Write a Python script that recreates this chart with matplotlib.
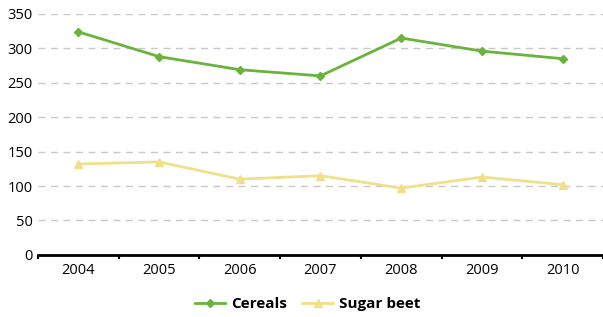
import matplotlib.pyplot as plt

years = ["2004", "2005", "2006", "2007", "2008", "2009", "2010"]
cereals = [324, 288, 269, 260, 315, 296, 285]
sugar_beet = [132, 135, 110, 115, 97, 113, 102]

plt.rcParams['font.family'] = ['Open Sans', 'DejaVu Sans']

fig = plt.figure(figsize=(6.03, 3.17), dpi=100)
ax = fig.add_axes([0.063, 0.196, 0.937, 0.76])

x = range(len(years))
ax.plot(x, cereals, '-D', color="#6ab43e", linewidth=2, markersize=4, label="Cereals")
ax.plot(x, sugar_beet, '-^', color="#f0e08c", linewidth=2, markersize=6, label="Sugar beet")

ax.set_xlim(-0.5, 6.5)
ax.set_ylim(0, 350)
ax.set_yticks(range(0, 351, 50))
ax.set_xticks(x)
ax.set_xticklabels(years)
ax.set_xticks([i - 0.5 for i in range(8)], minor=True)
ax.tick_params(axis='x', which='major', length=0, pad=6, labelsize=10.5)
ax.tick_params(axis='x', which='minor', length=3, width=1.5, direction='out')
ax.tick_params(axis='y', length=0, labelsize=10.5, pad=4)
ax.grid(axis='y', linestyle=(0, (5, 4)), color="#c8c8c8", linewidth=1)
ax.set_axisbelow(True)
for s in ['top', 'right', 'left']:
    ax.spines[s].set_visible(False)
ax.spines['bottom'].set_linewidth(2)
ax.spines['bottom'].set_zorder(5)

fig.legend(loc='lower center', bbox_to_anchor=(0.51, -0.025), ncol=2, frameon=False,
           prop={'weight': 'bold', 'size': 11}, handlelength=2.0, handletextpad=0.4,
           columnspacing=1.0)

fig.savefig("out.png", dpi=100)
